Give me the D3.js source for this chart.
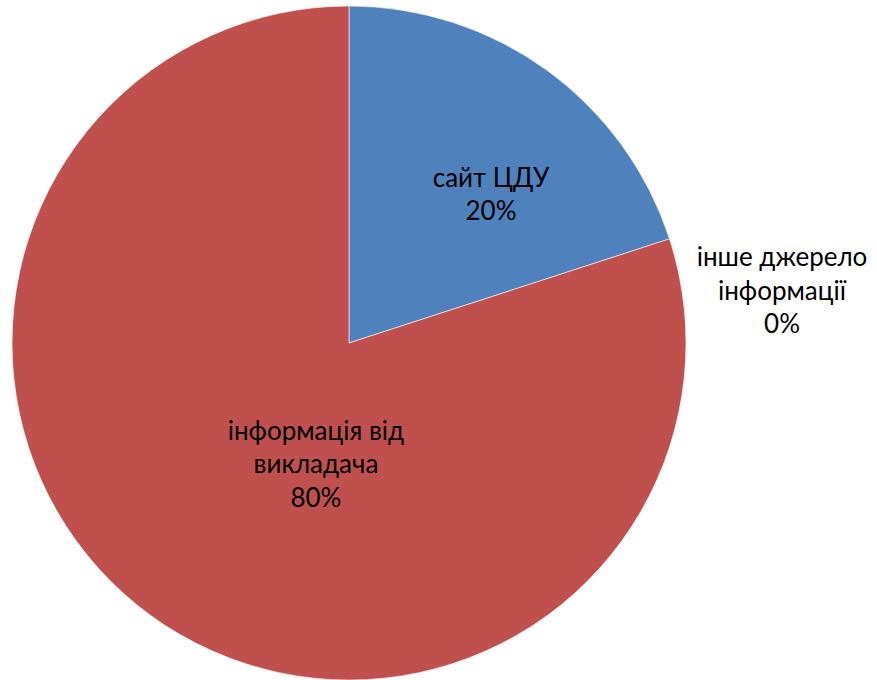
<html>
<head>
  <meta charset="utf-8">
  <title>Джерела інформації</title>
  <style>
    body {
        margin: 0;
        background: #fff;
    }
    .lbl {
        font-family: Lato, "Open Sans", sans-serif;
        font-size: 26px;
        fill: #000;
    }
  </style>
  <script src="https://d3js.org/d3.v7.min.js"></script>
</head>
<body>
  <div id="chart"></div>
  <script>
// data
var categories = ["сайт ЦДУ", "інше джерело інформації", "інформація від викладача"];
var values = [20, 0, 80];
var colors = ["#4F81BD", "#9BBB59", "#C0504D"];
// label lines per slice (category split into lines for display)
var labelLines = [["сайт ЦДУ"], ["інше джерело", "інформації"], ["інформація від", "викладача"]];

var width = 877, height = 680;
var cx = 349, cy = 343, radius = 337;

var svg = d3.select("#chart").append("svg")
    .attr("width", width)
    .attr("height", height);

var g = svg.append("g")
    .attr("transform", "translate(" + cx + "," + cy + ")");

var pie = d3.pie().sort(null).value(function(d) { return d; });
var arcs = pie(values);
var total = d3.sum(values);

var arc = d3.arc().innerRadius(0).outerRadius(radius);
var outerArc = d3.arc().innerRadius(radius * 1.27).outerRadius(radius * 1.27);

g.selectAll("path.slice")
    .data(arcs)
    .enter().append("path")
    .attr("class", "slice")
    .attr("d", arc)
    .attr("fill", function(d, i) { return colors[i]; })
    .attr("stroke", function(d) { return d.value === 0 ? "none" : "#fff"; })
    .attr("stroke-width", 0.6);

// label offsets (px) so text sits like the original
var offsets = [[43, -12], [26, 80], [66, -15]];
var lineH = 33.5;

var labels = g.selectAll("text.lbl")
    .data(arcs)
    .enter().append("text")
    .attr("class", "lbl")
    .attr("text-anchor", "middle")
    .attr("transform", function(d, i) {
        var c = d.value === 0 ? outerArc.centroid(d) : arc.centroid(d);
        return "translate(" + (c[0] + offsets[i][0]) + "," + (c[1] + offsets[i][1]) + ")";
    });

labels.each(function(d, i) {
    var t = d3.select(this);
    var lines = labelLines[i].concat([Math.round(d.value / total * 100) + "%"]);
    var startY = -(lines.length - 1) * lineH / 2 + 9;
    lines.forEach(function(s, k) {
        t.append("tspan")
            .attr("x", 0)
            .attr("y", startY + k * lineH)
            .text(s);
    });
});
  </script>
</body>
</html>
